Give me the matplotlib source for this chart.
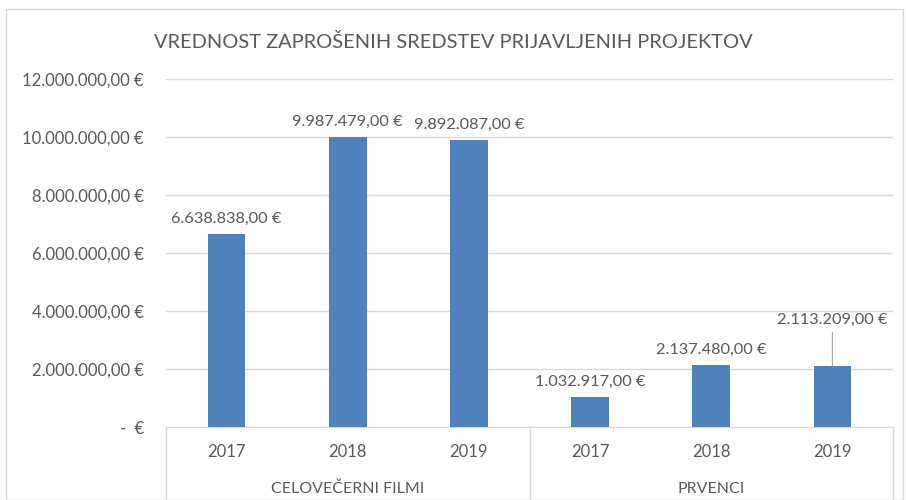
import matplotlib.pyplot as plt
from matplotlib.patches import Rectangle
import matplotlib.transforms as mtransforms

groups = ["CELOVEČERNI FILMI", "PRVENCI"]
years = ["2017", "2018", "2019", "2017", "2018", "2019"]
values = [6638838.00, 9987479.00, 9892087.00, 1032917.00, 2137480.00, 2113209.00]

TXT = "#595959"
BAR = "#4F81BD"
GRID = "#D9D9D9"

plt.rcParams['font.family'] = ['Lato', 'DejaVu Sans']


def euro(v):
    if v == 0:
        return "-  €"
    s = "{:,.2f}".format(v)
    s = s.replace(",", "X").replace(".", ",").replace("X", ".")
    return s + " €"


fig = plt.figure(figsize=(9.06, 5.0), dpi=100)
fig.patches.append(Rectangle((6 / 906, 0), 897 / 906, 491 / 500, transform=fig.transFigure,
                             fill=False, edgecolor=GRID, linewidth=1))

ax = fig.add_axes([166 / 906, 73 / 500, 727 / 906, 348 / 500])
x = list(range(len(values)))
ax.bar(x, values, width=0.31, color=BAR, zorder=3)
ax.set_xlim(-0.5, len(values) - 0.5)
ax.set_ylim(0, 12000000)
ax.set_yticks(range(0, 12000001, 2000000))
ax.set_yticklabels([euro(v) for v in range(0, 12000001, 2000000)], color=TXT, fontsize=12)
ax.yaxis.grid(True, color=GRID, linewidth=1, zorder=0)
ax.tick_params(axis='y', length=0, pad=16)
ax.set_xticks([])
for s in ["top", "right", "left"]:
    ax.spines[s].set_visible(False)
ax.spines["bottom"].set_color(GRID)

# data labels
for i, v in enumerate(values):
    if i == len(values) - 1:
        ax.annotate(euro(v), xy=(i, v), xytext=(0, 28), textcoords="offset points",
                    ha="center", va="bottom", color=TXT, fontsize=11.8,
                    arrowprops=dict(arrowstyle="-", color="#A6A6A6", lw=0.8,
                                    shrinkA=2, shrinkB=0))
    else:
        ax.annotate(euro(v), xy=(i, v), xytext=(0, 6), textcoords="offset points",
                    ha="center", va="bottom", color=TXT, fontsize=11.8)

# multi-level category axis
trans = mtransforms.blended_transform_factory(ax.transData, ax.transAxes)
for xs in [-0.5, 2.5, 5.5]:
    ax.plot([xs, xs], [0, -0.21], transform=trans, color=GRID, lw=1, clip_on=False)
for i, y in enumerate(years):
    ax.text(i, -0.072, y, transform=trans, ha="center", va="center", color=TXT, fontsize=12)
for g, gi in enumerate(groups):
    ax.text(g * 3 + 1, -0.178, gi, transform=trans, ha="center", va="center", color=TXT, fontsize=11.5)

fig.text(0.5, 0.915, "VREDNOST ZAPROŠENIH SREDSTEV PRIJAVLJENIH PROJEKTOV",
         ha="center", va="center", color=TXT, fontsize=14.4)

fig.savefig("out.png", dpi=100)
